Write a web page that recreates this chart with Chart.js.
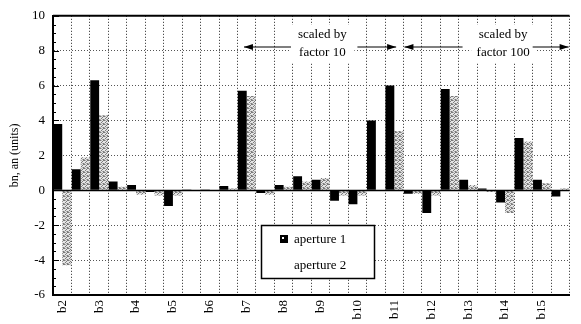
<!DOCTYPE html>
<html><head><meta charset="utf-8">
<script src="https://cdn.jsdelivr.net/npm/chart.js@4/dist/chart.umd.min.js"></script>
<style>html,body{margin:0;padding:0;background:#fff;overflow:hidden}#wrap{position:relative;width:581px;height:324px}</style>
</head><body><div id="wrap"><canvas id="c" width="581" height="324"></canvas></div>
<script>
// ---- data ----
const categories = ['b2','a2','b3','a3','b4','a4','b5','a5','b6','a6','b7','a7','b8','a8','b9','a9','b10','a10','b11','a11','b12','a12','b13','a13','b14','a14','b15','a15'];
const aperture1 = [3.8, 1.2, 6.3, 0.5, 0.3, -0.1, -0.9, 0.05, 0.05, 0.25, 5.7, -0.15, 0.3, 0.8, 0.6, -0.6, -0.8, 4.0, 6.0, -0.2, -1.3, 5.8, 0.6, 0.1, -0.7, 3.0, 0.6, -0.35];
const aperture2 = [-4.3, 1.9, 4.3, 0.2, -0.25, -0.3, -0.3, 0, 0, 0.1, 5.4, -0.25, 0.2, 0.5, 0.7, -0.3, -0.3, 0, 3.4, -0.2, -0.3, 5.4, 0.3, -0.1, -1.3, 2.8, 0.4, 0.1];
const seriesNames = ['aperture 1', 'aperture 2'];
const yTickValues = [-6, -4, -2, 0, 2, 4, 6, 8, 10];
const yTitle = 'bn, an (units)';
const scaleNotes = [
  {lines: ['scaled by', 'factor 10'], center: 14.6, leftArrow: [10.35, 12.9], rightArrow: [16.5, 18.6]},
  {lines: ['scaled by', 'factor 100'], center: 24.4, leftArrow: [19.05, 22.2], rightArrow: [26.0, 27.95]}
];

const SERIF = '"Liberation Serif", "DejaVu Serif", serif';

// stipple pattern for aperture 2
function stipple() {
  const p = document.createElement('canvas'); p.width = 4; p.height = 4;
  const g = p.getContext('2d');
  g.fillStyle = '#e4e4e4'; g.fillRect(0,0,4,4);
  g.fillStyle = '#7a7a7a';
  [[0,0],[2,1],[1,2],[3,3],[3,0]].forEach(([x,y]) => g.fillRect(x,y,1,1));
  g.fillStyle = '#b0b0b0';
  [[1,0],[0,3],[2,3]].forEach(([x,y]) => g.fillRect(x,y,1,1));
  return g.createPattern(p, 'repeat');
}
const pat = stipple();

const decor = {
  id: 'decor',
  beforeDraw(chart) {
    const ctx = chart.ctx;
    ctx.save(); ctx.fillStyle = '#fff'; ctx.fillRect(0,0,chart.width,chart.height); ctx.restore();
  },
  afterDatasetsDraw(chart) {
    const ctx = chart.ctx, a = chart.chartArea, y = chart.scales.y;
    const N = categories.length, cw = (a.right - a.left) / N;
    const px = f => a.left + f * cw;
    ctx.save();
    // zero line
    ctx.strokeStyle = '#000'; ctx.lineWidth = 1.5;
    ctx.beginPath(); ctx.moveTo(a.left, Math.round(y.getPixelForValue(0)) + 0.5); ctx.lineTo(a.right, Math.round(y.getPixelForValue(0)) + 0.5); ctx.stroke();
    // top border
    ctx.lineWidth = 2;
    ctx.beginPath(); ctx.moveTo(a.left, a.top); ctx.lineTo(a.right, a.top); ctx.stroke();
    // minor ticks on y axis (inside)
    ctx.lineWidth = 1;
    for (let v = y.min; v <= y.max + 1e-9; v += 0.5) {
      const yy = Math.round(y.getPixelForValue(v)) + 0.5;
      const len = (Math.abs(v % 2) < 1e-9) ? 6 : 3;
      ctx.beginPath(); ctx.moveTo(a.left, yy); ctx.lineTo(a.left + len, yy); ctx.stroke();
    }
    // scale notes with arrows
    ctx.fillStyle = '#000';
    ctx.font = '13px ' + SERIF;
    ctx.textAlign = 'center'; ctx.textBaseline = 'middle';
    const ay = 47;
    const arrowHead = (x, dir) => {
      ctx.beginPath(); ctx.moveTo(x, ay); ctx.lineTo(x - dir * 9, ay - 3); ctx.lineTo(x - dir * 9, ay + 3); ctx.closePath(); ctx.fill();
    };
    scaleNotes.forEach(n => {
      ctx.fillStyle = '#fff';
      ctx.fillRect(px(n.center) - 32, 25, 64, 37);
      ctx.fillStyle = '#000';
      ctx.fillText(n.lines[0], px(n.center), 35);
      ctx.fillText(n.lines[1], px(n.center), 53);
      ctx.lineWidth = 1.2;
      ctx.beginPath(); ctx.moveTo(px(n.leftArrow[0]), ay); ctx.lineTo(px(n.leftArrow[1]), ay); ctx.stroke();
      arrowHead(px(n.leftArrow[0]), -1);
      ctx.beginPath(); ctx.moveTo(px(n.rightArrow[0]), ay); ctx.lineTo(px(n.rightArrow[1]), ay); ctx.stroke();
      arrowHead(px(n.rightArrow[1]), 1);
    });
    // legend box
    const lx = 261, ly = 225, lw = 113, lh = 53;
    ctx.fillStyle = '#fff'; ctx.fillRect(lx, ly, lw, lh);
    ctx.strokeStyle = '#000'; ctx.lineWidth = 1.5; ctx.strokeRect(lx + 0.5, ly + 0.5, lw, lh);
    ctx.font = '13px ' + SERIF; ctx.textAlign = 'left'; ctx.textBaseline = 'middle';
    ctx.fillStyle = '#000'; ctx.fillRect(280, 235, 8, 8);
    ctx.fillStyle = '#fff'; ctx.fillRect(282, 237, 2, 2);
    ctx.fillStyle = '#000';
    ctx.fillText(chart.data.datasets[0].label, 294, 240);
    ctx.fillText(chart.data.datasets[1].label, 294, 266);
    ctx.restore();
  }
};

new Chart(document.getElementById('c'), {
  type: 'bar',
  data: {
    labels: categories,
    datasets: [
      {label: seriesNames[0], data: aperture1, backgroundColor: '#000', borderWidth: 0, barPercentage: 1, categoryPercentage: 0.96},
      {label: seriesNames[1], data: aperture2, backgroundColor: pat, borderWidth: 0, barPercentage: 1, categoryPercentage: 0.96}
    ]
  },
  options: {
    responsive: false, animation: false, devicePixelRatio: 1,
    layout: {padding: {top: 10, right: 3, left: 0, bottom: 0}},
    plugins: {legend: {display: false}, tooltip: {enabled: false}},
    scales: {
      x: {
        offset: true,
        grid: {offset: true, color: '#222', lineWidth: 1, drawTicks: false},
        border: {display: true, color: '#000', width: 2, dash: [1, 2]},
        ticks: {
          autoSkip: false, maxRotation: 90, minRotation: 90, padding: 5,
          color: '#000', font: {family: SERIF, size: 13},
          callback: (v, i) => categories[i].startsWith('b') ? categories[i] : ''
        },
        afterFit: s => { s.height = 29; }
      },
      y: {
        min: -6, max: 10,
        afterBuildTicks: s => { s.ticks = yTickValues.map(v => ({value: v})); },
        grid: {color: '#555', lineWidth: 1, drawTicks: false},
        border: {display: true, color: '#000', width: 2, dash: [1, 2]},
        ticks: {padding: 8, color: '#000', font: {family: SERIF, size: 13}},
        title: {display: true, text: yTitle, color: '#000', font: {family: SERIF, size: 12}, padding: {top: 8, bottom: 0}},
        afterFit: s => { s.width = 53; }
      }
    }
  },
  plugins: [decor]
});
</script></body></html>
